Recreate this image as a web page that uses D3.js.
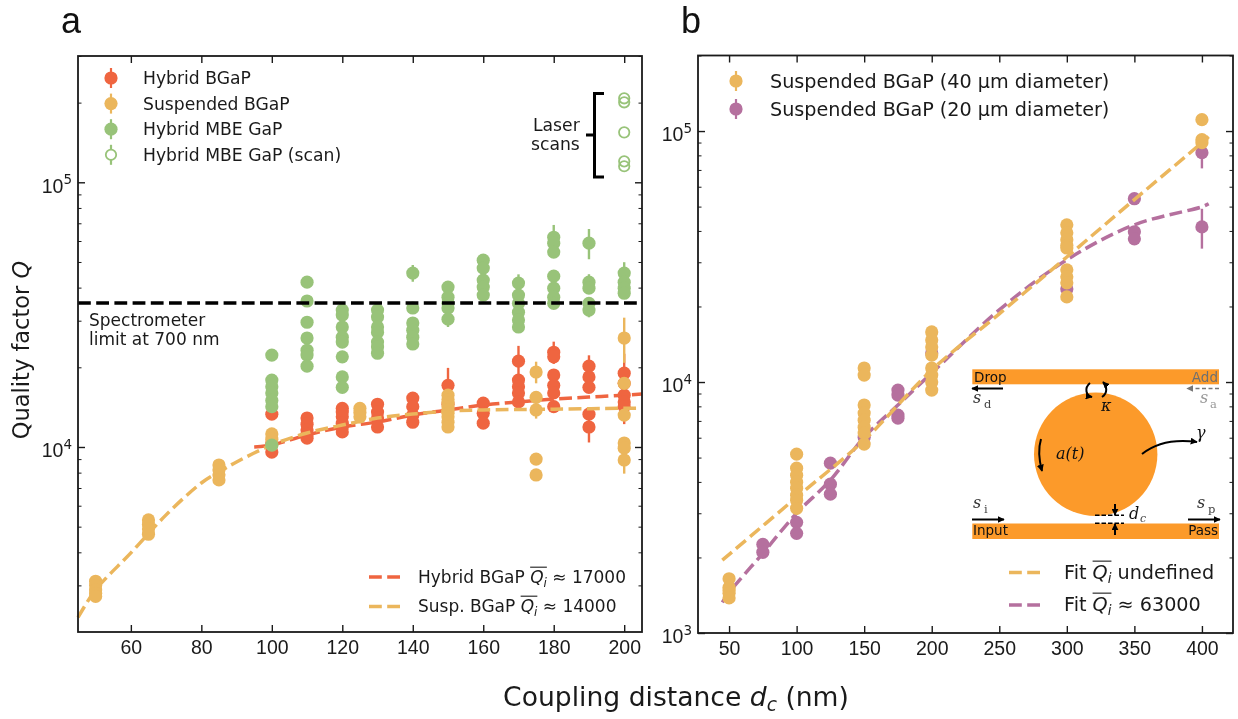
<!DOCTYPE html>
<html><head><meta charset="utf-8">
<script src="https://cdnjs.cloudflare.com/ajax/libs/d3/7.8.5/d3.min.js"></script>
<style>
html,body{margin:0;padding:0;background:#fff}
svg{display:block;filter:blur(0.35px)}
.lg{font-family:"DejaVu Sans";fill:#1a1a1a}
.tk text{font-family:"Liberation Sans";font-size:19.5px;fill:#1a1a1a}
</style></head><body><svg id="c" width="1238" height="719"></svg>
<script>
// ---- data: [coupling distance, Q, optional error]
const hybridBGaP=[[100,13300],[100,10350],[100,9570],
[110,12870],[110,12200],[110,11590],[110,11200],[110,10800],
[120,14000],[120,13550],[120,13000],[120,12300],[120,11900],[120,11400],
[130,14500],[130,13550],[130,12870],[130,11900],
[140,15300],[140,14200],[140,13200],[140,12400],
[150,17100,2800],[150,14500],
[160,14650],[160,13400],[160,12300],
[170,21100,3000],[170,17900],[170,16900],[170,16000],[170,14800],
[180,22800,2200],[180,21900],[180,18700],[180,17100],[180,16000],[180,14200],
[190,20200,2000],[190,18400],[190,16800],[190,13300],[190,11900,1500],
[200,19000,3500],[200,17400],[200,15700],[200,14800],[200,14200,2000]];
const suspendedBGaP=[[50,3110],[50,3000],[50,2880],[50,2800],[50,2725],
[65,5300],[65,5100],[65,4900],[65,4680],
[85,8550],[85,8200],[85,7850],[85,7510],
[100,11200],[100,10700],[100,10200],
[125,14000],[125,13500],[125,13000],
[150,15700],[150,15100],[150,14650],[150,14200],[150,13800],[150,13400],[150,13000],[150,12400],[150,11900],
[175,19200,1800],[175,15400],[175,13800,1000],[175,9000],[175,7840],
[200,25800,5000],[200,17400],[200,13200],[200,10350],[200,9900],[200,8930,1000]];
const hybridGaP=[[100,22250],[100,17900],[100,16900],[100,16000],[100,15000],[100,14200],[100,10170],
[110,41950],[110,35600],[110,29600],[110,25800],[110,23200],[110,22250],[110,20200],
[120,32900],[120,31500],[120,28400],[120,26000],[120,24900],[120,21900],[120,18400],[120,16800],
[130,32900],[130,30950],[130,28400],[130,27100],[130,24900],[130,23850],[130,22600],
[140,45400,3300],[140,33500],[140,29400],[140,27600],[140,26000],[140,24500],
[150,40200],[150,36800],[150,34900],[150,33500],[150,30400,2000],
[160,50800],[160,47400],[160,42700],[160,40200],[160,37500],
[170,41600,3300],[170,37500],[170,34900],[170,32300],[170,30200],[170,28400],
[180,62000,7000],[180,58900],[180,54500],[180,44200],[180,39800],[180,36800],[180,34900],
[190,58900,7700],[190,41950,3000],[190,39800],[190,34900],[190,32900,2000],
[200,45400,4500],[200,41950],[200,39800],[200,38100]];
const hybridGaPScan=[[200,207600],[200,200500],[200,154400],[200,120000],[200,115000]];
const fitHybrid=[[95,10000],[100,10175],[110,11100],[120,11900],[130,12430],[140,13200],[150,13800],[160,14400],[170,14800],[180,15170],[190,15440],[200,15700],[205,15850]];
const fitSuspended=[[45,2270],[50,2885],[60,3980],[70,5540],[80,7310],[85,8050],[90,8780],[100,10175],[110,11290],[120,12100],[130,12860],[140,13320],[150,13670],[160,13800],[180,13900],[205,14030]];
const spectrometerLimit=35000;
const susp40=[[50,1645],[50,1520],[50,1480],[50,1439],[50,1380],
[100,5160],[100,4538],[100,4253],[100,3990],[100,3775],[100,3540],[100,3380],[100,3140],
[150,11370],[150,10660],[150,8100],[150,7520],[150,7050],[150,6610],[150,6260],[150,5660],
[200,15830],[200,14700],[200,13800],[200,12800],[200,11370],[200,10660],[200,10000],[200,9290],
[300,42300],[300,39300],[300,36900],[300,35000],[300,34200],[300,27990],[300,26250],[300,24840],[300,21840],
[400,111000],[400,92400],[400,89900]];
const susp20=[[75,2256],[75,2097],[100,2761],[100,2496],
[125,4750],[125,3917],[125,3573],[150,6030],
[175,9290],[175,8870],[175,7385],[175,7180],
[200,13050],[300,23500],
[350,53750],[350,39700],[350,37200],
[400,82000,11000],[400,41500,7500]];
const fitUndefined=[[45,1950],[100,3475],[150,5870],[200,11160],[250,18700],[300,31500],[350,53300],[400,89900],[405,95000]];
const fit63000=[[45,1325],[50,1450],[75,2078],[100,3000],[125,4065],[150,6030],[175,8100],[200,10860],[250,19380],[300,30680],[350,42300],[400,49900],[405,51300]];
const ticksAX=[60,80,100,120,140,160,180,200];
const ticksBX=[50,100,150,200,250,300,350,400];
const legendA=["Hybrid BGaP","Suspended BGaP","Hybrid MBE GaP","Hybrid MBE GaP (scan)"];
const legendB=["Suspended BGaP (40 \u03bcm diameter)","Suspended BGaP (20 \u03bcm diameter)"];

const RED="#EF6540",ORG="#EBB65C",GRN="#98C379",PUR="#B5709E",INK="#1a1a1a",ORANGE2="#FC9A2A";
const svg=d3.select("#c");
const defs=svg.append("defs");
function mk(id,c){defs.append("marker").attr("id",id).attr("viewBox","0 0 10 10").attr("refX",9).attr("refY",5)
 .attr("markerWidth",7).attr("markerHeight",7).attr("markerUnits","userSpaceOnUse").attr("orient","auto")
 .append("path").attr("d","M0,0L10,5L0,10z").attr("fill",c);}
mk("ab","#000");mk("ag","#777");

const L={x0:78,x1:642,y0:632,y1:56};
const R={x0:698,x1:1233,y0:633,y1:55.5};
const xa=d3.scaleLinear().domain([45,205.05]).range([L.x0,L.x1]);
const ya=d3.scaleLog().domain([2000,300000]).range([L.y0,L.y1]);
const xb=d3.scaleLinear().domain([27,423]).range([R.x0,R.x1]);
const yb=d3.scaleLog().domain([1000,200000]).range([R.y0,R.y1]);

function minors(dom){const o=[];for(let d=1e3;d<1e6;d*=10)for(let k=2;k<10;k++){const v=k*d;if(v>dom[0]&&v<=dom[1])o.push(v);}return o;}
function frame(g,x,y,P,xt,majors){
 const ax=g.append("g");
 const st=(s,w)=>{s.select(".domain").remove();s.selectAll(".tick line").attr("stroke",INK).attr("stroke-width",w);};
 ax.append("g").attr("class","tk").attr("transform",`translate(0,${P.y0})`)
  .call(d3.axisBottom(x).tickValues(xt).tickSize(-7).tickPadding(8).tickFormat(d3.format("d"))).call(s=>st(s,1.4)).attr("font-family",null).attr("font-size",null);
 ax.append("g").attr("transform",`translate(0,${P.y1})`).call(d3.axisTop(x).tickValues(xt).tickSize(-7).tickFormat("")).call(s=>st(s,1.4));
 const mn=minors(y.domain());
 ax.append("g").attr("transform",`translate(${P.x0},0)`).call(d3.axisLeft(y).tickValues(mn).tickSize(-3.5).tickFormat("")).call(s=>st(s,1));
 ax.append("g").attr("transform",`translate(${P.x1},0)`).call(d3.axisRight(y).tickValues(mn).tickSize(-3.5).tickFormat("")).call(s=>st(s,1));
 ax.append("g").attr("transform",`translate(${P.x1},0)`).call(d3.axisRight(y).tickValues(majors).tickSize(-7).tickFormat("")).call(s=>st(s,1.4));
 const lf=ax.append("g").attr("class","tk").attr("transform",`translate(${P.x0},0)`)
  .call(d3.axisLeft(y).tickValues(majors).tickSize(-7).tickPadding(6).tickFormat("")).call(s=>st(s,1.4)).attr("font-family",null).attr("font-size",null);
 lf.selectAll(".tick text").attr("dy","0.5em").each(function(d){
  const t=d3.select(this);
  t.append("tspan").text("10");
  t.append("tspan").attr("dy","-0.62em").attr("font-size","13.5px").attr("font-family","DejaVu Sans").text(Math.round(Math.log10(d)));
 });
 g.append("rect").attr("x",P.x0).attr("y",P.y1).attr("width",P.x1-P.x0).attr("height",P.y0-P.y1)
  .attr("fill","none").attr("stroke",INK).attr("stroke-width",1.8);
}
function points(g,x,y,data,c,open){
 const s=g.append("g");
 s.selectAll("line").data(data.filter(d=>d[2])).join("line")
  .attr("x1",d=>x(d[0])).attr("x2",d=>x(d[0]))
  .attr("y1",d=>y(d[1]-d[2])).attr("y2",d=>y(d[1]+d[2]))
  .attr("stroke",c).attr("stroke-width",2.4);
 s.selectAll("circle").data(data).join("circle")
  .attr("cx",d=>x(d[0])).attr("cy",d=>y(d[1])).attr("r",open?5.2:6.6)
  .attr("fill",open?"none":c).attr("stroke",open?c:"none").attr("stroke-width",open?1.8:0);
}
function fit(g,x,y,data,c){
 g.append("path").datum(data).attr("fill","none").attr("stroke",c).attr("stroke-width",3.5)
  .attr("stroke-dasharray","12.8 5.4")
  .attr("d",d3.line().x(d=>x(d[0])).y(d=>y(d[1])).curve(d3.curveCatmullRom.alpha(0.5)));
}
function legendMark(g,px,py,c,open){
 g.append("line").attr("x1",px).attr("x2",px).attr("y1",py-10).attr("y2",py+10).attr("stroke",c).attr("stroke-width",2.2);
 g.append("circle").attr("cx",px).attr("cy",py).attr("r",open?5.2:6.6).attr("fill",open?"#fff":c).attr("stroke",open?c:"none").attr("stroke-width",open?1.8:0);
}
function label(g,px,py,t,fs){return g.append("text").attr("class","lg").attr("x",px).attr("y",py).attr("font-size",fs).text(t);}
// text with an overlined Q_i inside it
function qiLabel(g,px,py,before,after,fs){
 const t=g.append("text").attr("class","lg").attr("x",px).attr("y",py).attr("font-size",fs).attr("xml:space","preserve");
 t.append("tspan").text(before);
 const w0=t.node().getComputedTextLength();
 t.append("tspan").attr("font-style","italic").text("Q");
 t.append("tspan").attr("font-style","italic").attr("font-size",fs*0.7).attr("dy",fs*0.22).text("i");
 const w1=t.node().getComputedTextLength();
 t.append("tspan").attr("dy",-fs*0.22).text(after);
 g.append("line").attr("x1",px+w0).attr("x2",px+w1).attr("y1",py-fs*0.93).attr("y2",py-fs*0.93).attr("stroke",INK).attr("stroke-width",1.1);
}
function dashKey(g,x1,x2,py,c){g.append("line").attr("x1",x1).attr("x2",x2).attr("y1",py).attr("y2",py).attr("stroke",c).attr("stroke-width",3.5).attr("stroke-dasharray","12.8 5.4");}

// ---- panel a
const ga=svg.append("g");
fit(ga,xa,ya,fitHybrid,RED);
points(ga,xa,ya,hybridBGaP,RED);
fit(ga,xa,ya,fitSuspended,ORG);
points(ga,xa,ya,suspendedBGaP,ORG);
points(ga,xa,ya,hybridGaP,GRN);
points(ga,xa,ya,hybridGaPScan,GRN,true);
ga.append("line").attr("x1",L.x0).attr("x2",L.x1).attr("y1",ya(spectrometerLimit)).attr("y2",ya(spectrometerLimit))
 .attr("stroke","#000").attr("stroke-width",3.4).attr("stroke-dasharray","12.8 5.4");
frame(ga,xa,ya,L,ticksAX,[1e4,1e5]);
[[RED],[ORG],[GRN],[GRN,true]].forEach((m,i)=>{
 const py=78+i*25.6;
 legendMark(ga,111,py,m[0],m[1]);
 label(ga,143,py+6,legendA[i],17.2);
});
label(ga,89,326,"Spectrometer",17);
label(ga,89,345,"limit at 700 nm",17);
label(ga,533,131,"Laser",17.2);
label(ga,531,150,"scans",17.2);
ga.append("path").attr("d","M604,93.5H594.5V177H604M586,135H594.5").attr("fill","none").attr("stroke","#000").attr("stroke-width",3);
dashKey(ga,369,401,577,RED);
dashKey(ga,369,401,606.5,ORG);
qiLabel(ga,418,583,"Hybrid BGaP "," \u2248 17000",17);
qiLabel(ga,418,612,"Susp. BGaP "," \u2248 14000",17);

// ---- panel b
const gb=svg.append("g");
fit(gb,xb,yb,fit63000,PUR);
points(gb,xb,yb,susp20,PUR);
fit(gb,xb,yb,fitUndefined,ORG);
points(gb,xb,yb,susp40,ORG);
frame(gb,xb,yb,R,ticksBX,[1e3,1e4,1e5]);
legendMark(gb,736,81,ORG);
legendMark(gb,736,109,PUR);
label(gb,770,87.5,legendB[0],19.2);
label(gb,770,115.5,legendB[1],19.2);
dashKey(gb,1009,1044,572.5,ORG);
dashKey(gb,1009,1044,605,PUR);
qiLabel(gb,1064,579,"Fit "," undefined",19.2);
qiLabel(gb,1064,611,"Fit "," \u2248 63000",19.2);

// ---- schematic inset
const ins=gb.append("g");
ins.append("rect").attr("x",972.3).attr("y",369.3).attr("width",246.7).attr("height",15).attr("fill",ORANGE2);
ins.append("rect").attr("x",972.3).attr("y",523.5).attr("width",246.7).attr("height",15.5).attr("fill",ORANGE2);
ins.append("circle").attr("cx",1095.7).attr("cy",454.3).attr("r",61.7).attr("fill",ORANGE2);
const it=(px,py,t,o={})=>ins.append("text").attr("x",px).attr("y",py).text(t)
 .attr("font-family",o.f||"DejaVu Sans").attr("font-size",o.s||13.5).attr("font-style",o.i?"italic":null)
 .attr("fill",o.c||"#111").attr("text-anchor",o.a||"start");
it(974,382,"Drop");it(1218,382,"Add",{a:"end",c:"#6f6f6f"});
it(973,535,"Input");it(1218,535,"Pass",{a:"end"});
const ar=(d,m="ab",c="#000",w=2,dash)=>ins.append("path").attr("d",d).attr("fill","none").attr("stroke",c).attr("stroke-width",w).attr("stroke-dasharray",dash||null).attr("marker-end",`url(#${m})`);
ar("M1003,388.5H972");
ar("M1219,388.5H1187","ag","#777",1.6,"4 2.5");
ar("M972,519.5H1004");
ar("M1188,519.5H1220");
const ser={f:"DejaVu Serif",i:true};
it(973,403,"s",{...ser,s:16,c:"#333"});it(984,408,"d",{f:"DejaVu Serif",s:11.5,c:"#444"});
it(1200,403,"s",{...ser,s:16,c:"#999"});it(1210,408,"a",{f:"DejaVu Serif",s:11.5,c:"#999"});
it(973,508,"s",{...ser,s:16,c:"#333"});it(984,513,"i",{f:"DejaVu Serif",s:11.5,c:"#444"});
it(1197,508,"s",{...ser,s:16,c:"#333"});it(1208,513,"p",{f:"DejaVu Serif",s:11.5,c:"#444"});
it(1056,459,"a(t)",{...ser,s:16});
it(1101,411,"\u03ba",{...ser,s:16});
it(1196,438,"\u03b3",{...ser,s:16});
it(1129,519,"d",{...ser,s:16});it(1140,522,"c",{...ser,s:11,c:"#444"});
ar("M1041,439C1038,449 1039,460 1042,471");
ar("M1142,454C1157,442 1175,439 1197,442");
ar("M1090,383C1084,388 1086,396 1092,397","ab","#000",2);
ar("M1102,397C1108,393 1107,386 1103,382","ab","#000",2);
ins.append("path").attr("d","M1095,515.3H1124M1095,523.3H1124").attr("stroke","#000").attr("stroke-width",1.6).attr("stroke-dasharray","4.5 2").attr("fill","none");
ar("M1115,504V515");
ar("M1115,535V524");

// ---- shared labels
const lab=(px,py,pieces,fs,rot)=>{
 const t=svg.append("text").attr("font-family","DejaVu Sans").attr("font-size",fs).attr("fill",INK)
  .attr("text-anchor","middle").attr("transform",`translate(${px},${py})`+(rot?` rotate(${rot})`:""));
 pieces.forEach(p=>{const s=t.append("tspan").text(p[0]);if(p[1])s.attr("font-style","italic");if(p[2])s.attr("font-size",fs*0.7).attr("dy",p[2]);if(p[3])s.attr("dy",p[3]);});
 return t;
};
lab(29,350,[["Quality factor "],["Q",1]],22.5,-90);
lab(676,706,[["Coupling distance "],["d",1],["c",1,5],[" (nm)",0,0,-5]],26.6);
svg.append("text").attr("x",61).attr("y",33).attr("font-family","Liberation Sans").attr("font-size",36).attr("fill","#111").text("a");
svg.append("text").attr("x",681).attr("y",33).attr("font-family","Liberation Sans").attr("font-size",36).attr("fill","#111").text("b");
</script></body></html>
